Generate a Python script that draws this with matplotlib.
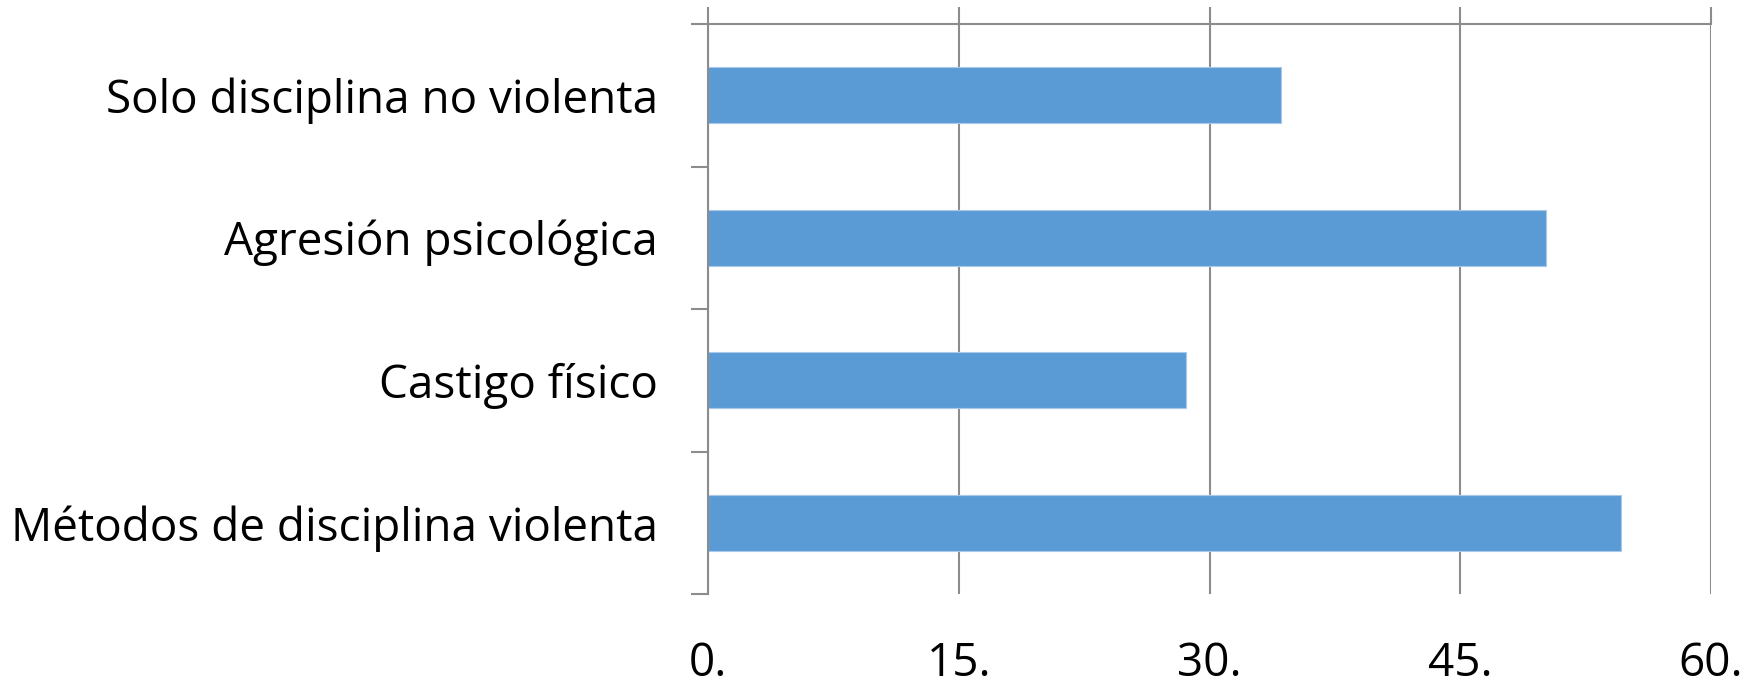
import matplotlib
matplotlib.use("Agg")
import matplotlib.pyplot as plt

categories = ["Solo disciplina no violenta", "Agresión psicológica", "Castigo físico",
              "Métodos de disciplina violenta"]
values = [34.3, 50.1, 28.6, 54.6]
xticks = [0, 15, 30, 45, 60]
xticklabels = ["0.", "15.", "30.", "45.", "60."]

GRAY = "#8c8c8c"
BAR = "#5b9bd5"
FONT = "Open Sans"
FS = 33

fig = plt.figure(figsize=(17.61, 6.88), dpi=100)
ax = fig.add_axes([708 / 1761, 1 - 594 / 688, (1711 - 708) / 1761, (594 - 24) / 688])

ypos = list(range(len(categories)))
ax.barh(ypos, values, height=0.39, color=BAR, edgecolor="#a9c8ea", linewidth=0.8, zorder=3)

ax.set_xlim(0, 60)
ax.set_ylim(len(categories) - 0.5, -0.5)

ax.set_xticks(xticks)
ax.set_xticklabels(xticklabels, fontsize=FS, fontfamily=FONT)
ax.xaxis.grid(True, color=GRAY, linewidth=1.5, zorder=1)
ax.set_axisbelow(True)
ax.tick_params(axis="x", which="major", top=True, bottom=False, labeltop=False, labelbottom=True,
               direction="out", length=12, width=1.5, color=GRAY, pad=22)

ax.set_yticks(ypos)
ax.set_yticklabels(categories, fontsize=FS, fontfamily=FONT)
ax.set_yticks([i - 0.5 for i in range(len(categories) + 1)], minor=True)
ax.tick_params(axis="y", which="major", length=0, pad=36)
ax.tick_params(axis="y", which="minor", length=12, width=1.5, color=GRAY, direction="out")

for s in ["right", "bottom"]:
    ax.spines[s].set_visible(False)
for s in ["left", "top"]:
    ax.spines[s].set_color(GRAY)
    ax.spines[s].set_linewidth(1.5)
    ax.spines[s].set_zorder(4)

fig.savefig("out.png", dpi=100, facecolor="white")
